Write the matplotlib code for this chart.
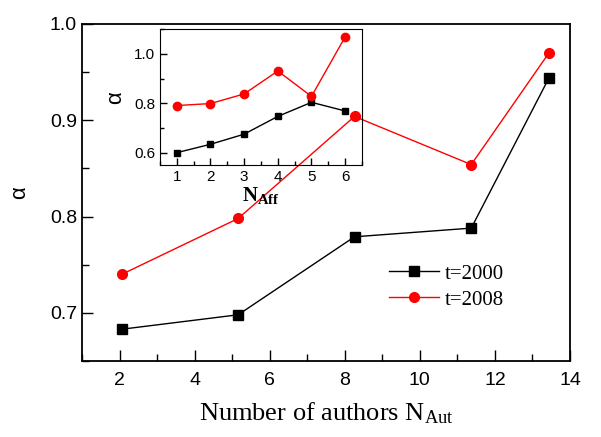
import numpy as np
import matplotlib
matplotlib.use('Agg')
import matplotlib.pyplot as plt
from matplotlib.ticker import MultipleLocator

plt.rcParams['font.family'] = ['Liberation Sans', 'DejaVu Sans']
plt.rcParams['mathtext.fontset'] = 'custom'
plt.rcParams['mathtext.rm'] = 'Liberation Serif'
plt.rcParams['mathtext.it'] = 'Liberation Serif:italic'
plt.rcParams['mathtext.bf'] = 'Liberation Serif:bold'

# ── data ─────────────────────────────────────────────────────────────
n_aut       = [2.06, 5.16, 8.26, 11.37, 13.44]
alpha_2000  = [0.683, 0.698, 0.779, 0.788, 0.944]
alpha_2008  = [0.740, 0.798, 0.904, 0.854, 0.970]

n_aff            = [1, 2, 3, 4, 5, 6]
alpha_aff_2000   = [0.600, 0.634, 0.675, 0.747, 0.804, 0.769]
alpha_aff_2008   = [0.791, 0.799, 0.838, 0.931, 0.828, 1.069]

SERIES = ['t=2000', 't=2008']
COLORS = ['black', 'red']
MARKERS = ['s', 'o']


def style_ticks(ax, lab, major_len, minor_len):
    ax.tick_params(which='both', direction='in', top=False, right=False,
                   labelsize=lab, width=1.0)
    ax.tick_params(which='major', length=major_len)
    ax.tick_params(which='minor', length=minor_len)


fig = plt.figure(figsize=(6.01, 4.37), dpi=100)

# main axes
ax = fig.add_axes([0.1364, 0.1739, 0.8120, 0.7712])
for y, c, m, lab in zip([alpha_2000, alpha_2008], COLORS, MARKERS, SERIES):
    ax.plot(n_aut, y, color=c, marker=m, lw=1.0,
            markersize=6.5 if m == 's' else 7, label=lab)
ax.set_xlim(1, 14)
ax.set_ylim(0.65, 1.0)
ax.xaxis.set_major_locator(MultipleLocator(2))
ax.xaxis.set_minor_locator(MultipleLocator(1))
ax.yaxis.set_major_locator(MultipleLocator(0.1))
ax.yaxis.set_minor_locator(MultipleLocator(0.05))
ax.set_yticks([0.7, 0.8, 0.9, 1.0])
ax.set_yticklabels(['0.7', '0.8', '0.9', '1.0'])
style_ticks(ax, 14, 8, 5)
ax.tick_params(axis='x', pad=8)
for s in ax.spines.values():
    s.set_linewidth(1.3)
ax.set_xlabel(r'Number of authors N$_{\rm Aut}$', family='Liberation Serif',
              fontsize=19, labelpad=8)
ax.set_ylabel('α', fontsize=16, labelpad=14)
ax.legend(loc='center left', bbox_to_anchor=(0.629, 0.22), frameon=False,
          borderpad=0, borderaxespad=0,
          prop={'family': 'Liberation Serif', 'size': 15},
          handlelength=2.4, handletextpad=0.3, labelspacing=0.3)

# inset
ins = fig.add_axes([0.2662, 0.6224, 0.3361, 0.3106])
for y, c, m in zip([alpha_aff_2000, alpha_aff_2008], COLORS, MARKERS):
    ins.plot(n_aff, y, color=c, marker=m, lw=1.0,
             markersize=5 if m == 's' else 6)
ins.set_xlim(0.5, 6.5)
ins.set_ylim(0.55, 1.1)
ins.xaxis.set_major_locator(MultipleLocator(1))
ins.xaxis.set_minor_locator(MultipleLocator(0.5))
ins.set_yticks([0.6, 0.8, 1.0])
ins.set_yticklabels(['0.6', '0.8', '1.0'])
ins.yaxis.set_minor_locator(MultipleLocator(0.1))
style_ticks(ins, 11, 5, 3)
ins.patch.set_alpha(0)
ins.set_xlabel(r'$\mathbf{N_{Aff}}$', fontsize=15, labelpad=1)
ins.set_ylabel('α', fontsize=16, labelpad=6)

fig.savefig('out.png', dpi=100)
